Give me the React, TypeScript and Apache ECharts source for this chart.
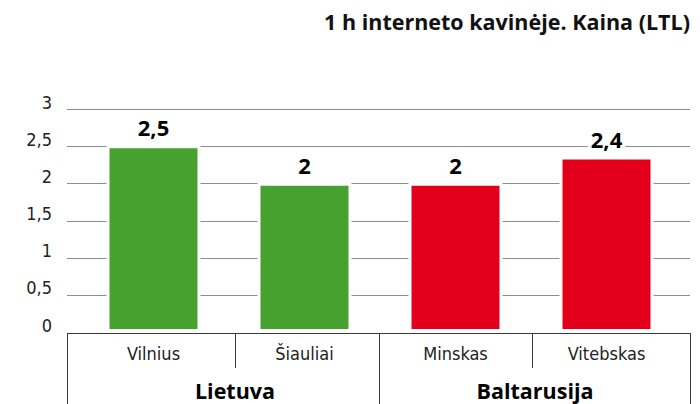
import React, { useEffect, useRef } from 'react';
import * as echarts from 'echarts';

const title = '1 h interneto kavinėje. Kaina (LTL)';
const categories = ['Vilnius', 'Šiauliai', 'Minskas', 'Vitebskas'];
const groups = ['Lietuva', 'Baltarusija'];
const prices = [2.5, 2, 2, 2.35];
const barColors = ['#46a12e', '#46a12e', '#e2001a', '#e2001a'];
const yMin = 0;
const yMax = 3;
const yStep = 0.5;

const narrow = "'DejaVu Sans Condensed', 'Liberation Sans Narrow', sans-serif";
const bold = "'Open Sans', 'Noto Sans', sans-serif";

const fmt = (v: number) => String(Number(v.toFixed(1))).replace('.', ',');

export default function App() {
  const ref = useRef<HTMLDivElement>(null);
  useEffect(() => {
    document.body.style.margin = '0';
    const chart = echarts.init(ref.current!, null, { renderer: 'svg' });
    const boxColor = '#3a3a3a';
    chart.setOption({
      animation: false,
      title: {
        text: title,
        right: 5,
        top: 5,
        textStyle: { fontFamily: bold, fontWeight: 'bold', fontSize: 21.5, color: '#111' },
      },
      grid: [
        { left: 67, top: 109.5, width: 623, height: 222.5 },
        { left: 78, top: 108, width: 604, height: 224 },
      ],
      xAxis: [
        { gridIndex: 0, type: 'category', data: categories, show: false },
        {
          gridIndex: 1,
          type: 'category',
          data: categories,
          axisLine: { show: false },
          axisTick: { show: false },
          axisLabel: { margin: 12, fontSize: 18, fontFamily: narrow, color: '#222' },
        },
      ],
      yAxis: [
        {
          gridIndex: 0,
          type: 'value',
          min: yMin,
          max: yMax,
          interval: yStep,
          axisLine: { show: false },
          axisTick: { show: false },
          splitLine: { show: true, showMinLine: false, lineStyle: { color: '#8c8c8c', width: 1 } },
          axisLabel: {
            margin: 15,
            fontSize: 18,
            lineHeight: 14,
            verticalAlign: 'bottom',
            fontFamily: narrow,
            color: '#222',
            formatter: (v: number) => String(v).replace('.', ','),
          },
        },
        { gridIndex: 1, type: 'value', min: yMin, max: yMax, interval: yStep, show: false },
      ],
      series: [
        {
          type: 'bar',
          xAxisIndex: 1,
          yAxisIndex: 1,
          barWidth: 94,
          data: prices.map((v, i) => ({ value: v, itemStyle: { color: barColors[i] } })),
          itemStyle: { borderColor: '#fff', borderWidth: 3 },
          label: {
            show: true,
            position: 'top',
            distance: 7,
            fontFamily: bold,
            fontWeight: 'bold',
            fontSize: 22,
            color: '#000',
            backgroundColor: '#fff',
            padding: [0, 3],
            formatter: (p: any) => fmt(p.value),
          },
        },
      ],
      graphic: [
        { type: 'line', shape: { x1: 67, y1: 333.5, x2: 691, y2: 333.5 }, style: { stroke: boxColor, lineWidth: 1 } },
        { type: 'line', shape: { x1: 67.5, y1: 333, x2: 67.5, y2: 404 }, style: { stroke: boxColor, lineWidth: 1 } },
        { type: 'line', shape: { x1: 379.5, y1: 333, x2: 379.5, y2: 404 }, style: { stroke: boxColor, lineWidth: 1 } },
        { type: 'line', shape: { x1: 690.5, y1: 333, x2: 690.5, y2: 404 }, style: { stroke: boxColor, lineWidth: 1 } },
        { type: 'line', shape: { x1: 235.5, y1: 333, x2: 235.5, y2: 368 }, style: { stroke: boxColor, lineWidth: 1 } },
        { type: 'line', shape: { x1: 532.5, y1: 333, x2: 532.5, y2: 368 }, style: { stroke: boxColor, lineWidth: 1 } },
        {
          type: 'text',
          x: 235,
          y: 390,
          style: { text: groups[0], align: 'center', verticalAlign: 'middle', lineHeight: 24, fontFamily: bold, fontWeight: 'bold', fontSize: 21.5, fill: '#000' },
        },
        {
          type: 'text',
          x: 535,
          y: 390,
          style: { text: groups[1], align: 'center', verticalAlign: 'middle', lineHeight: 24, fontFamily: bold, fontWeight: 'bold', fontSize: 21.5, fill: '#000' },
        },
      ],
    });
    return () => chart.dispose();
  }, []);
  return <div ref={ref} style={{ width: 700, height: 404 }} />;
}
